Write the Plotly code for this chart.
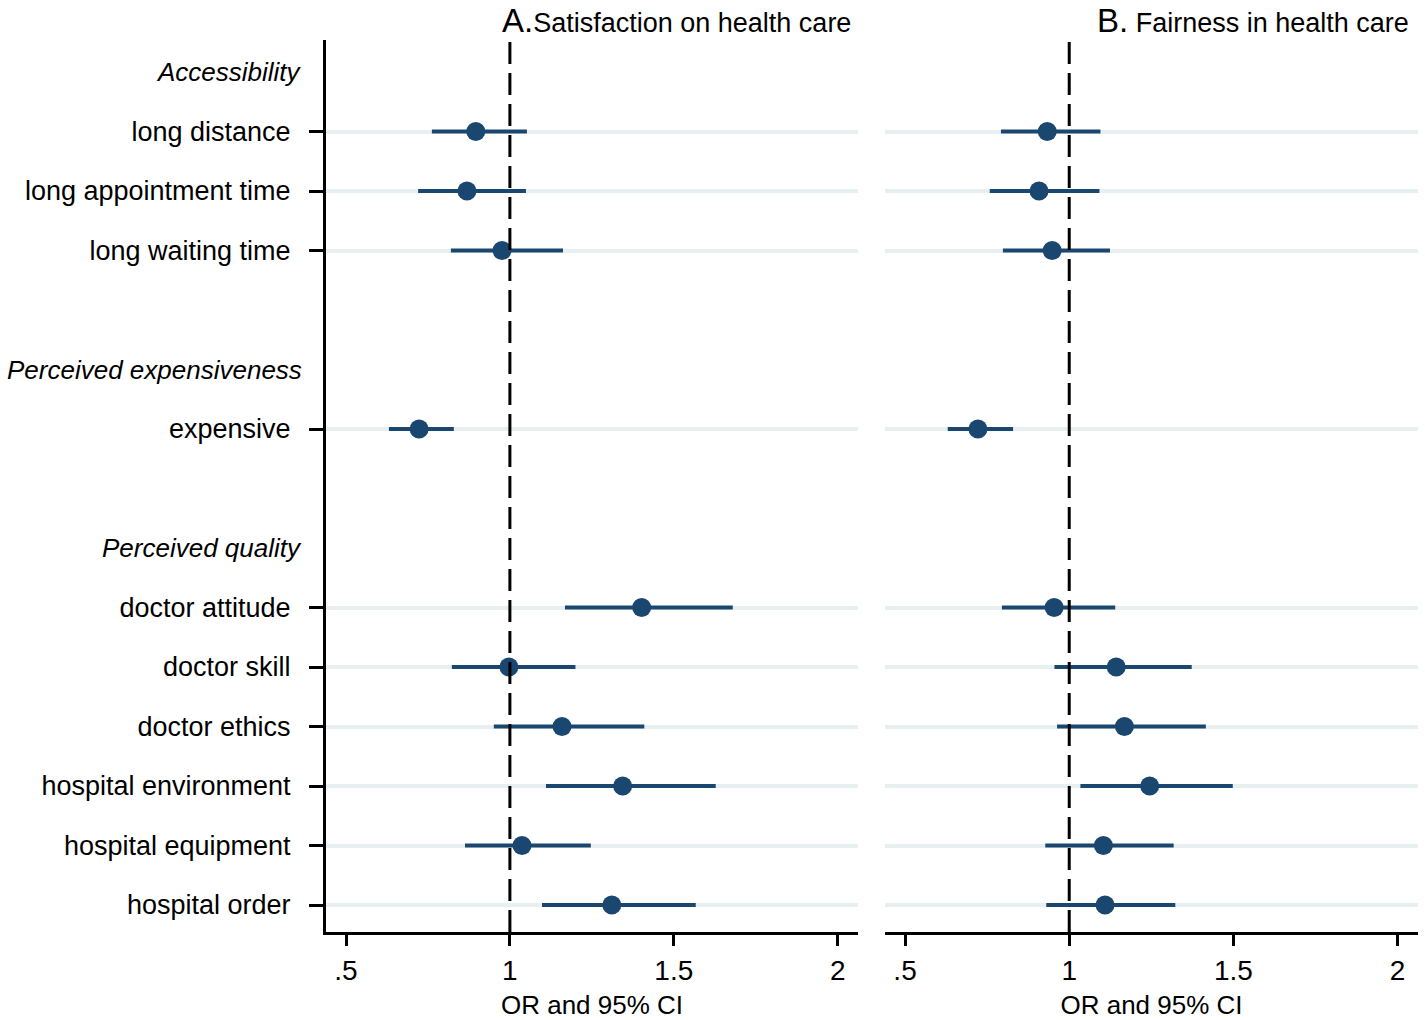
import plotly.graph_objects as go

# ---- data ----
rows = ["Accessibility", "long distance", "long appointment time", "long waiting time", "",
        "Perceived expensiveness", "expensive", "",
        "Perceived quality", "doctor attitude", "doctor skill", "doctor ethics",
        "hospital environment", "hospital equipment", "hospital order"]
headings = ["Accessibility", "Perceived expensiveness", "Perceived quality"]
items = ["long distance", "long appointment time", "long waiting time", "expensive",
         "doctor attitude", "doctor skill", "doctor ethics",
         "hospital environment", "hospital equipment", "hospital order"]

sat_or = [0.896, 0.869, 0.976, 0.723, 1.402, 0.997, 1.159, 1.344, 1.037, 1.311]
sat_lo = [0.762, 0.720, 0.820, 0.631, 1.168, 0.823, 0.951, 1.110, 0.863, 1.098]
sat_hi = [1.052, 1.049, 1.162, 0.829, 1.680, 1.200, 1.410, 1.628, 1.247, 1.567]

fair_or = [0.933, 0.908, 0.948, 0.722, 0.954, 1.143, 1.168, 1.245, 1.104, 1.109]
fair_lo = [0.792, 0.758, 0.798, 0.630, 0.795, 0.955, 0.963, 1.034, 0.927, 0.930]
fair_hi = [1.095, 1.092, 1.124, 0.829, 1.140, 1.373, 1.416, 1.498, 1.318, 1.323]

x_ticks = [0.5, 1, 1.5, 2]
x_ticktext = [".5", "1", "1.5", "2"]
panel_titles = ["Satisfaction on health care", " Fairness in health care"]
panel_letters = ["A.", "B."]
x_title = "OR and 95% CI"

# ---- styling ----
W, H = 1425, 1020
navy = "#1a476f"
grid = "#e8eff0"
font = "Liberation Sans, Arial, sans-serif"

item_rows = [rows.index(i) for i in items]
heading_rows = [rows.index(h) for h in headings]

fig = go.Figure()

for k, (o, lo, hi) in enumerate([(sat_or, sat_lo, sat_hi), (fair_or, fair_lo, fair_hi)]):
    ax = "" if k == 0 else "2"
    fig.add_trace(go.Scatter(
        x=o, y=item_rows, mode="markers",
        marker=dict(size=19, color=navy, line=dict(width=0)),
        error_x=dict(type="data", symmetric=False,
                     array=[h - v for h, v in zip(hi, o)],
                     arrayminus=[v - l for v, l in zip(o, lo)],
                     color=navy, thickness=4, width=0),
        xaxis="x" + ax, yaxis="y" + ax, showlegend=False,
        hoverinfo="skip"))

px2 = lambda p: p / W
py2 = lambda p: 1 - p / H

dom1 = [px2(326), px2(858)]
dom2 = [px2(885), px2(1418)]
ydom = [py2(932), py2(40)]
r0 = (40 - 72) / 59.5
r1 = 14 + (932 - 905) / 59.5
yrange = [r1, r0]

xr = [0.439, 2.062]

common_x = dict(range=xr, tickvals=x_ticks, ticktext=x_ticktext, ticks="outside",
                ticklen=11, tickwidth=3, tickcolor="black", showline=True,
                linecolor="black", linewidth=3, showgrid=False, zeroline=False,
                tickfont=dict(family=font, size=28, color="black"),
                title=dict(text=x_title, font=dict(family=font, size=26, color="black"),
                           standoff=14))

fig.update_layout(
    width=W, height=H, margin=dict(l=0, r=0, t=0, b=0),
    paper_bgcolor="white", plot_bgcolor="white",
    xaxis=dict(domain=dom1, anchor="y", **common_x),
    xaxis2=dict(domain=dom2, anchor="y2", **common_x),
    yaxis=dict(domain=ydom, range=yrange, anchor="x", tickvals=item_rows,
               ticktext=items, ticks="outside", ticklen=14, tickwidth=3,
               tickcolor="black", showline=True, linecolor="black", linewidth=3,
               showgrid=True, gridcolor=grid, gridwidth=4, zeroline=False,
               ticklabelstandoff=13,
               tickfont=dict(family=font, size=27, color="black")),
    yaxis2=dict(domain=ydom, range=yrange, anchor="x2", tickvals=item_rows,
                showticklabels=False, ticks="", showline=False,
                showgrid=True, gridcolor=grid, gridwidth=4, zeroline=False),
)

# reference lines at OR = 1
for ax in ["x", "x2"]:
    fig.add_shape(type="line", xref=ax, yref="paper", x0=1, x1=1,
                  y0=ydom[0], y1=ydom[1],
                  line=dict(color="black", width=3, dash="22px,9px"), layer="above")

# group headings
for h in headings:
    fig.add_annotation(text="<i>%s</i>" % h, xref="paper", yref="y",
                       x=px2(304), y=rows.index(h), xanchor="right", yanchor="middle",
                       showarrow=False, font=dict(family=font, size=26, color="black"))

# panel titles
for k, (lt, tt) in enumerate(zip(panel_letters, panel_titles)):
    right = px2(853) if k == 0 else px2(1411)
    fig.add_annotation(text="<span style='font-size:33px'>%s</span>%s" % (lt, tt),
                       xref="paper", yref="paper", x=right,
                       y=py2(20), xanchor="right", yanchor="middle", showarrow=False,
                       font=dict(family=font, size=27, color="black"))

fig.write_html("out.html", config={"displayModeBar": False},
               post_script="document.body.style.margin='0';document.body.style.overflow='hidden';")
